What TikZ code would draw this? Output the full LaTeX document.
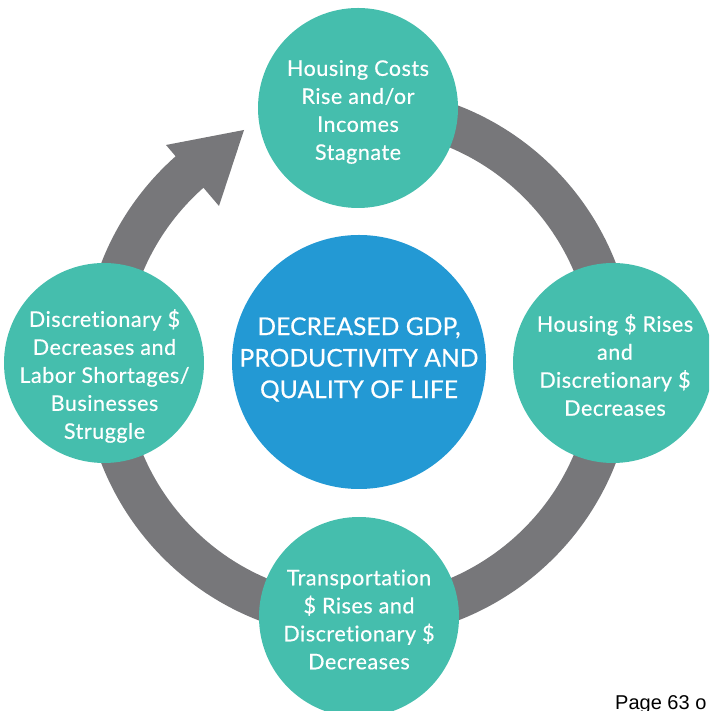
\documentclass[tikz,border=0pt]{standalone}
\usepackage{fontspec}
\setmainfont{Lato}[FakeBold=0.5, LetterSpace=2.5, Ligatures=NoCommon, RawFeature={-liga;-dlig}]
\newfontfamily\hubfont{Lato}[FakeBold=0.5, LetterSpace=0.5, Ligatures=NoCommon, RawFeature={-liga;-dlig}]
\newfontfamily\pagefont{Liberation Sans}
\usetikzlibrary{calc}
\definecolor{bubteal}{RGB}{69,190,173}
\definecolor{hubblue}{RGB}{35,153,212}
\definecolor{ringgray}{RGB}{119,119,122}
\begin{document}
\begin{tikzpicture}[x=1pt,y=1pt,
  bubble/.style={circle, fill=bubteal, minimum size=200pt, inner sep=0pt},
  bubtext/.style={text=white, align=center, inner sep=0pt, font=\fontsize{21.5}{28}\selectfont},
  hub/.style={circle, fill=hubblue, minimum size=254pt, inner sep=0pt},
  hubtext/.style={text=white, align=center, inner sep=0pt, font=\hubfont\fontsize{24.5}{31.5}\selectfont},
  ringshape/.style={fill=ringgray},
  pagetext/.style={text=black, inner sep=0pt, anchor=base west, font=\pagefont\fontsize{20}{24}\selectfont}]
\useasboundingbox (0,0) rectangle (709,711);
\clip (0,0) rectangle (709,711);
\coordinate (O) at (358.5,348);
% cycle ring with arrow head
\fill[ringshape] ($(O)+(85:276)$) arc[start angle=85, end angle=-228.5, radius=276pt]
  -- (166,566) -- (244,581) -- (219,505)
  -- ($(O)+(-228.5:234)$) arc[start angle=-228.5, end angle=85, radius=234pt] -- cycle;
% circles
\node[hub] (hub) at (359,349) {};
\node[bubble] (top) at (358,603) {};
\node[bubble] (right) at (613,348) {};
\node[bubble] (bottom) at (359,94) {};
\node[bubble] (left) at (104,348) {};
% texts
\node[hubtext] (hubtext) at (359,351.5) {DECREASED GDP,\\PRODUCTIVITY AND\\QUALITY OF LIFE};
\node[bubtext] (toptext) at (358,599) {Housing Costs\\Rise and/or\\Incomes\\Stagnate};
\node[bubtext] (righttext) at (615,346) {Housing \$ Rises\\and\\Discretionary \$\\Decreases};
\node[bubtext] (bottomtext) at (359,91.5) {Transportation\\\$ Rises and\\Discretionary \$\\Decreases};
\node[bubtext] (lefttext) at (104.5,335) {Discretionary \$\\Decreases and\\Labor Shortages/\\Businesses\\Struggle};
\node[pagetext] (page) at (615,1.5) {Page 63 o};
\end{tikzpicture}
\end{document}
